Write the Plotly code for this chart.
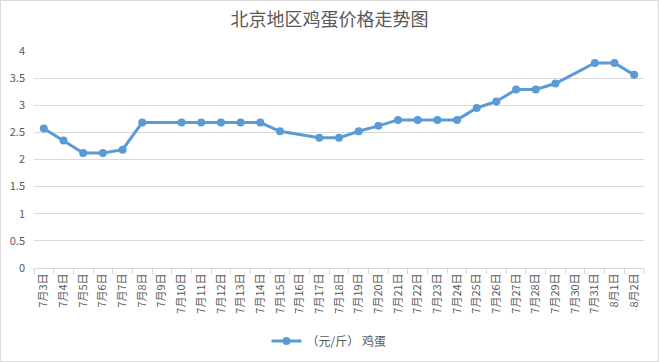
import plotly.graph_objects as go

dates = ["7月3日", "7月4日", "7月5日", "7月6日", "7月7日", "7月8日", "7月9日", "7月10日",
         "7月11日", "7月12日", "7月13日", "7月14日", "7月15日", "7月16日", "7月17日", "7月18日",
         "7月19日", "7月20日", "7月21日", "7月22日", "7月23日", "7月24日", "7月25日", "7月26日",
         "7月27日", "7月28日", "7月29日", "7月30日", "7月31日", "8月1日", "8月2日"]
prices = [2.57, 2.35, 2.12, 2.12, 2.18, 2.68, None, 2.68,
          2.68, 2.68, 2.68, 2.68, 2.52, None, 2.40, 2.40,
          2.52, 2.62, 2.73, 2.73, 2.73, 2.73, 2.95, 3.07,
          3.29, 3.29, 3.40, None, 3.78, 3.78, 3.56]
series_name = "（元/斤） 鸡蛋"
title = "北京地区鸡蛋价格走势图"

font = "Noto Sans CJK SC, Noto Sans, sans-serif"

fig = go.Figure()
fig.add_trace(go.Scatter(
    x=dates, y=prices, name=series_name, mode="lines+markers",
    connectgaps=True,
    line=dict(color="#5b9bd5", width=3),
    marker=dict(color="#5b9bd5", size=8),
))

L, R, T, B = 34, 15, 51, 94
W, H = 659, 362
pw, ph = W - L - R, H - T - B

fig.update_layout(
    width=W, height=H,
    margin=dict(l=L, r=R, t=T, b=B, autoexpand=False),
    paper_bgcolor="white", plot_bgcolor="white",
    font=dict(family=font, color="#595959", size=11),
    title=dict(text=title, x=0.5, xanchor="center", y=1 - 20 / H, yanchor="middle",
               font=dict(size=18, color="#595959", family=font)),
    showlegend=True,
    legend=dict(orientation="h", x=0.5 - 10 / pw, xanchor="center", y=-(341 - 268) / ph,
                yanchor="middle", font=dict(size=12, color="#595959"), itemwidth=30),
    xaxis=dict(type="category", range=[-0.5, len(dates) - 0.5], tickangle=-90,
               tickson="boundaries", ticks="outside",
               ticklen=5, tickcolor="#d9d9d9", showline=True, linecolor="#d9d9d9",
               showgrid=False, automargin=False, tickfont=dict(size=11, color="#595959")),
    yaxis=dict(range=[0, 4], dtick=0.5, showgrid=True, gridcolor="#d9d9d9",
               zeroline=False, showline=False, ticks="", automargin=False,
               ticklabelstandoff=8,
               tickfont=dict(size=11, color="#595959")),
    shapes=[dict(type="rect", xref="paper", yref="paper",
                 x0=-(L - 0.5) / pw, x1=1 + (R - 0.5) / pw,
                 y0=-(B - 0.5) / ph, y1=1 + (T - 0.5) / ph,
                 line=dict(color="#d9d9d9", width=1), fillcolor="rgba(0,0,0,0)")],
)

fig.write_html("out.html", config={"displayModeBar": False},
               post_script="document.body.style.margin='0';")
